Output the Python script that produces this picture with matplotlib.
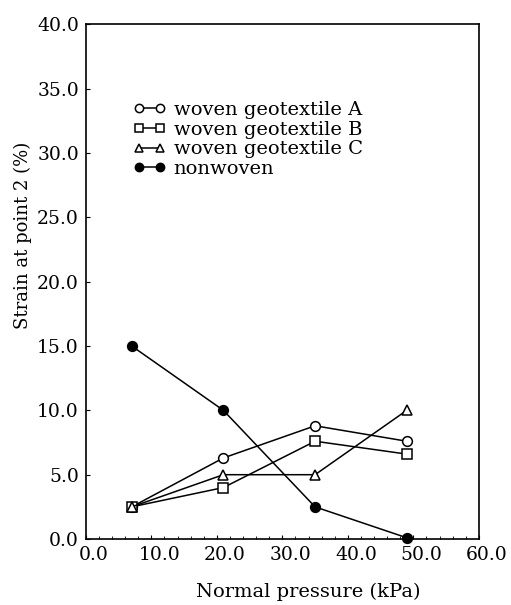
import matplotlib.pyplot as plt
from matplotlib.ticker import MultipleLocator
from matplotlib.transforms import ScaledTranslation

# normal pressure (kPa) and strain at point 2 (%)
pressure = [7.0, 21.0, 35.0, 49.0]
woven_a = [2.5, 6.3, 8.8, 7.6]
woven_b = [2.5, 4.0, 7.6, 6.6]
woven_c = [2.5, 5.0, 5.0, 10.0]
nonwoven = [15.0, 10.0, 2.5, 0.1]

labels = ['woven geotextile A', 'woven geotextile B', 'woven geotextile C', 'nonwoven']
x_ticks = [0, 10, 20, 30, 40, 50, 60]
y_ticks = [0, 5, 10, 15, 20, 25, 30, 35, 40]

plt.rcParams['font.family'] = ['DejaVu Serif']

fig = plt.figure(figsize=(5.11, 6.05), dpi=100)
ax = fig.add_axes([0.168, 0.109, 0.769, 0.851])

style = dict(color='black', lw=1.1, ms=7, mew=1.1, clip_on=False)
ax.plot(pressure, woven_a, marker='o', mfc='white', label=labels[0], **style)
ax.plot(pressure, woven_b, marker='s', mfc='white', label=labels[1], **style)
ax.plot(pressure, woven_c, marker='^', mfc='white', label=labels[2], **style)
ax.plot(pressure, nonwoven, marker='o', mfc='black', label=labels[3], **style)

ax.set_xlim(0, 60)
ax.set_ylim(0, 40)
ax.set_xticks(x_ticks)
ax.set_yticks(y_ticks)
ax.set_xticklabels([f'{v:.1f}' for v in x_ticks], fontsize=13.5)
ax.set_yticklabels([f'{v:.1f}' for v in y_ticks], fontsize=13.5)
ax.xaxis.set_minor_locator(MultipleLocator(2))
ax.tick_params(direction='in', length=3, width=0.8, pad=5)
ax.tick_params(which='minor', direction='in', length=2, width=0.6)
for s in ax.spines.values():
    s.set_linewidth(1.2)

# x tick labels sit a little to the right of their ticks
shift = ScaledTranslation(8 / 100, 0, fig.dpi_scale_trans)
for lbl in ax.get_xticklabels():
    lbl.set_transform(lbl.get_transform() + shift)

ax.set_xlabel('Normal pressure (kPa)', fontsize=14)
ax.set_ylabel('Strain at point 2 (%)', fontsize=13)
ax.xaxis.set_label_coords(0.567, -0.084)
ax.yaxis.set_label_coords(-0.138, 0.589)

ax.legend(loc='upper left', bbox_to_anchor=(0.1, 0.866), frameon=False,
          fontsize=14, handlelength=1.7, handletextpad=0.4, labelspacing=0.09,
          borderaxespad=0, numpoints=2, markerscale=0.85)

fig.savefig('out.png', dpi=100)
